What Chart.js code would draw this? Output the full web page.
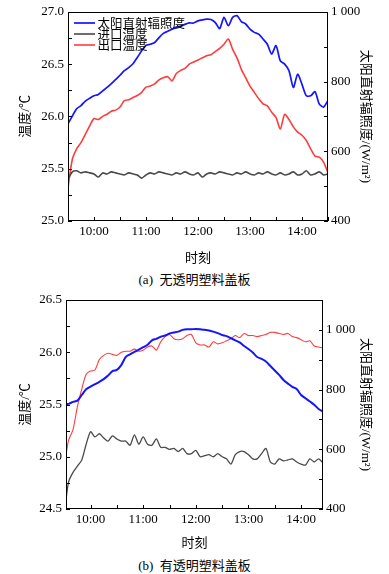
<!DOCTYPE html>
<html lang="zh-CN">
<head>
<meta charset="utf-8">
<title>温度与太阳直射辐照度</title>
<script src="https://cdn.jsdelivr.net/npm/chart.js@4.4.1/dist/chart.umd.min.js"></script>
<style>
  body { margin: 0; background: #fff; }
  .page { position: relative; width: 389px; height: 574px; }
  canvas { position: absolute; left: 0; }
  .caption { position: absolute; left: 0; width: 389px; height: 16px; line-height: 16px; text-align: center;
             font: 13px "Liberation Serif", "Noto Sans CJK SC", serif; color: #000; }
</style>
</head>
<body>
<div class="page">
  <canvas id="chartA" width="389" height="268" style="top:0"></canvas>
  <div class="caption" style="top:269px">(a)&nbsp;&nbsp;无透明塑料盖板</div>
  <canvas id="chartB" width="389" height="265" style="top:288px"></canvas>
  <div class="caption" style="top:555px">(b)&nbsp;&nbsp;有透明塑料盖板</div>
</div>
<script>
// --- dados ---

const seriesNames = ['太阳直射辐照度', '进口温度', '出口温度'];

// (a) sem cobertura
const timesA = ['9:30','9:35','9:40','9:45','9:50','9:55','10:00','10:05','10:10','10:15','10:20','10:25',
  '10:30','10:35','10:40','10:45','10:50','10:55','11:00','11:05','11:10','11:15','11:20','11:25',
  '11:30','11:35','11:40','11:45','11:50','11:55','12:00','12:05','12:10','12:15','12:20','12:25',
  '12:30','12:35','12:40','12:45','12:50','12:55','13:00','13:05','13:10','13:15','13:20','13:25',
  '13:30','13:35','13:40','13:45','13:50','13:55','14:00','14:05','14:10','14:15','14:20','14:25','14:30'];
const irradianceA = [679,701,722,731,744,752,759,763,773,783, 794,806,818,831,840,851,869,888,904,907,
  912,926,938,944,950,956,959,964,968,968, 974,977,979,978,969,952,984,960,984,989,
  972,965,950,941,936,922,907,879,903,859, 850,831,783,821,792,759,759,771,735,727,746];
const inletA = [25.40,25.47,25.48,25.46,25.47,25.46,25.45,25.42,25.46,25.45, 25.47,25.46,25.45,25.44,25.46,25.45,25.44,25.41,25.44,25.46,
  25.45,25.47,25.46,25.45,25.44,25.46,25.45,25.47,25.45,25.44, 25.46,25.42,25.45,25.46,25.45,25.47,25.46,25.45,25.44,25.46,
  25.45,25.47,25.45,25.44,25.46,25.45,25.47,25.45,25.44,25.46, 25.44,25.45,25.47,25.44,25.45,25.48,25.44,25.45,25.47,25.44,25.45];
const outletA = [25.32,25.59,25.69,25.75,25.83,25.91,25.98,25.97,26.00,26.02, 26.05,26.06,26.09,26.15,26.16,26.18,26.20,26.23,26.28,26.29,
  26.31,26.35,26.37,26.38,26.34,26.41,26.44,26.46,26.50,26.52, 26.54,26.56,26.58,26.59,26.62,26.65,26.69,26.74,26.64,26.56,
  26.45,26.37,26.29,26.23,26.17,26.12,26.10,26.04,25.99,25.88, 26.02,25.97,25.90,25.85,25.82,25.77,25.69,25.62,25.61,25.56,25.46];

// (b) com cobertura transparente
const timesB = ['9:32','9:35','9:40','9:45','9:50','9:55','10:00','10:05','10:10','10:15','10:20','10:25',
  '10:30','10:35','10:40','10:45','10:50','10:55','11:00','11:05','11:10','11:15','11:20','11:25',
  '11:30','11:35','11:40','11:45','11:50','11:55','12:00','12:05','12:10','12:15','12:20','12:25',
  '12:30','12:35','12:40','12:45','12:50','12:55','13:00','13:05','13:10','13:15','13:20','13:25',
  '13:30','13:35','13:40','13:45','13:50','13:55','14:00','14:05','14:10','14:15','14:20','14:25'];
const irradianceB = [752,752,759,763,782,801,810,818,826,835, 847,862,866,882,909,918,926,934,942,950,
  965,970,977,981,988,991,994,1000,1002,1002, 1003,1002,1000,998,994,989,983,979,972,965,
  958,946,936,924,909,903,894,879,864,849, 832,820,809,802,782,771,760,749,735,726];
const inletB = [24.59,24.76,24.85,24.91,24.97,25.12,25.24,25.19,25.22,25.18, 25.15,25.20,25.17,25.15,25.15,25.11,25.21,25.12,25.19,25.12,
  25.11,25.17,25.09,25.09,25.07,25.08,25.05,25.08,25.03,25.03, 25.06,25.00,25.01,25.02,25.00,25.03,25.00,24.98,24.93,25.02,
  25.05,25.05,25.02,24.98,24.98,25.03,25.08,24.95,24.93,24.98, 24.96,24.97,24.98,24.95,24.93,24.92,24.98,24.95,24.98,24.94];
const outletB = [25.02,25.16,25.26,25.48,25.65,25.79,25.82,25.83,25.93,25.97, 25.99,25.98,25.97,26.00,26.01,26.01,26.03,26.01,26.02,26.05,
  26.06,26.02,26.10,26.15,26.17,26.13,26.12,26.13,26.16,26.17, 26.09,26.07,26.07,26.05,26.10,26.08,26.09,26.11,26.13,26.16,
  26.14,26.18,26.16,26.16,26.15,26.16,26.17,26.19,26.19,26.18, 26.17,26.18,26.15,26.14,26.12,26.10,26.11,26.06,26.05,26.04];

// --- aparência geral ---

const FONT = '"Liberation Serif", "Times New Roman", "Noto Sans CJK SC", serif';
Chart.defaults.font.family = FONT;
Chart.defaults.font.size = 13;
Chart.defaults.color = '#000';

const toMin = s => { const [h, m] = s.split(':').map(Number); return h * 60 + m; };
const pts = (times, values) => times.map((t, i) => ({ x: toMin(t), y: values[i] }));

// moldura da área do gráfico + marcas de escala para dentro
const frameTicks = {
    id: 'frameTicks',
    afterDraw(chart) {
        const { ctx, chartArea: a } = chart;
        ctx.save();
        ctx.strokeStyle = '#000';
        ctx.lineWidth = 1;
        ctx.strokeRect(Math.round(a.left) + 0.5, Math.round(a.top) + 0.5,
                       Math.round(a.width) - 1, Math.round(a.height) - 1);
        ctx.beginPath();
        Object.values(chart.scales).forEach(s => {
            s.ticks.forEach(t => {
                const p = Math.round(s.getPixelForValue(t.value)) + 0.5;
                if (s.axis === 'x') { ctx.moveTo(p, a.bottom); ctx.lineTo(p, a.bottom - 4); }
                else if (s.position === 'left') { ctx.moveTo(a.left, p); ctx.lineTo(a.left + 4, p); }
                else { ctx.moveTo(a.right, p); ctx.lineTo(a.right - 4, p); }
            });
        });
        ctx.stroke();
        ctx.restore();
    }
};

// legenda desenhada dentro da área do gráfico
const innerLegend = {
    id: 'innerLegend',
    afterDraw(chart, args, opts) {
        const { ctx } = chart;
        ctx.save();
        ctx.font = '12.5px ' + FONT;
        ctx.textBaseline = 'middle';
        ctx.fillStyle = '#000';
        chart.data.datasets.forEach((ds, i) => {
            const y = opts.y + i * opts.gap;
            ctx.strokeStyle = ds.borderColor;
            ctx.lineWidth = ds.borderWidth;
            ctx.beginPath();
            ctx.moveTo(opts.x, y);
            ctx.lineTo(opts.x + opts.len, y);
            ctx.stroke();
            ctx.fillText(ds.label, opts.x + opts.len + 2.5, y + 1.5);
        });
        ctx.restore();
    }
};

const noGrid = { display: false, drawTicks: false };

function makeChart(id, p) {
    const ctx = document.getElementById(id).getContext('2d');
    return new Chart(ctx, {
        type: 'line',
        data: {
            datasets: [
                { label: seriesNames[0], data: pts(p.times, p.irr), yAxisID: 'yI',
                  borderColor: '#1414ff', borderWidth: p.widths[0] },
                { label: seriesNames[1], data: pts(p.times, p.inlet), yAxisID: 'yT',
                  borderColor: '#4a4a4a', borderWidth: p.widths[1] },
                { label: seriesNames[2], data: pts(p.times, p.outlet), yAxisID: 'yT',
                  borderColor: '#ff3c3c', borderWidth: p.widths[2] }
            ]
        },
        options: {
            responsive: false,
            animation: false,
            events: [],
            layout: { padding: { top: p.top, left: 0, right: 0, bottom: 0 } },
            elements: { point: { radius: 0 }, line: { tension: 0.25 } },
            scales: {
                x: {
                    type: 'linear', position: 'bottom', min: p.xMin, max: p.xMax,
                    grid: noGrid, border: { display: false },
                    ticks: { stepSize: 30, autoSkip: false, maxRotation: 0, padding: 3, includeBounds: false,
                             callback: v => (v % 60 === 0 ? (v / 60) + ':00' : '') },
                    title: { display: true, text: '时刻', font: { size: 13 }, padding: { top: 0, bottom: p.xTitlePad } },
                    afterFit: s => { s.height = p.xHeight; }
                },
                yT: {
                    position: 'left', min: p.tMin, max: p.tMax,
                    grid: noGrid, border: { display: false },
                    ticks: { stepSize: 0.25, autoSkip: false, padding: 4, includeBounds: false,
                             callback: v => (Math.abs(v * 2 - Math.round(v * 2)) < 1e-6 ? v.toFixed(1) : '') },
                    title: { display: true, text: '温度/℃', padding: { top: 18, bottom: 0 } },
                    afterFit: s => { s.width = p.leftW; }
                },
                yI: {
                    position: 'right', min: 400, max: p.iMax,
                    grid: noGrid, border: { display: false },
                    ticks: { stepSize: 100, autoSkip: false, padding: 3, includeBounds: false,
                             callback: v => (v % 200 === 0 ? (v >= 1000 ? '1 000' : String(v)) : '') },
                    title: { display: true, text: '太阳直射辐照度/(W/m²)', padding: { top: 16, bottom: 0 } },
                    afterFit: s => { s.width = p.rightW; }
                }
            },
            plugins: {
                legend: { display: false },
                tooltip: { enabled: false },
                innerLegend: p.legend
            }
        },
        plugins: [frameTicks, innerLegend]
    });
}

makeChart('chartA', {
    times: timesA, irr: irradianceA, inlet: inletA, outlet: outletA,
    xMin: 570, xMax: 870, tMin: 25, tMax: 27, iMax: 1000,
    top: 11, xHeight: 47, xTitlePad: 2, leftW: 68, rightW: 61,
    widths: [1.7, 1.6, 1.6],
    legend: { x: 74, y: 23, gap: 11, len: 21 }
});

makeChart('chartB', {
    times: timesB, irr: irradianceB, inlet: inletB, outlet: outletB,
    xMin: 572, xMax: 865, tMin: 24.5, tMax: 26.5, iMax: 1100,
    top: 12, xHeight: 44, xTitlePad: 2, leftW: 66, rightW: 66,
    widths: [2, 1.3, 1.1],
    legend: { x: 71, y: 313, gap: 11, len: 22 }
});
</script>
</body>
</html>
